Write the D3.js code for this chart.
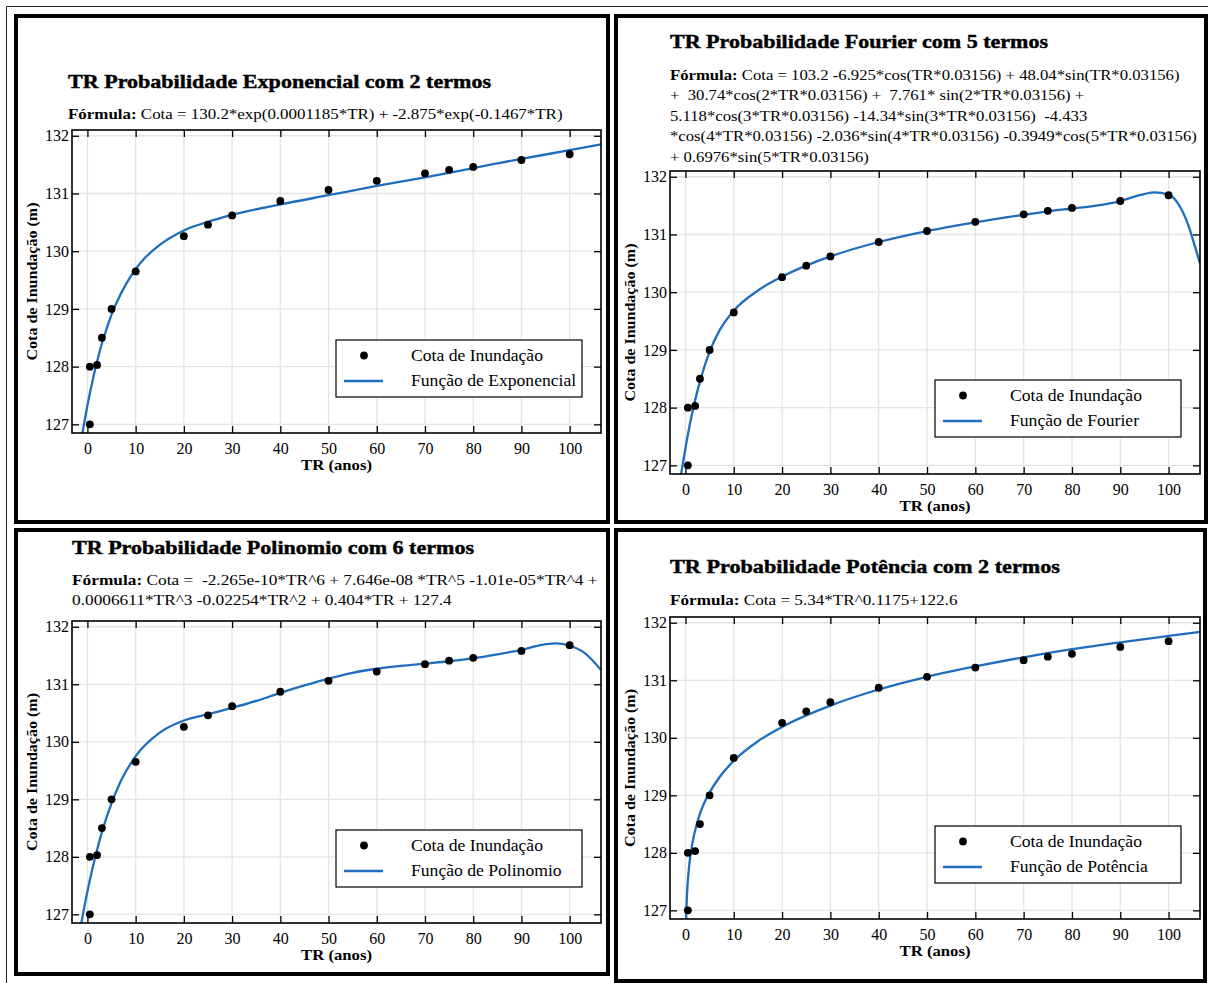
<!DOCTYPE html>
<html>
<head>
<meta charset="utf-8">
<script src="https://cdn.jsdelivr.net/npm/d3@7"></script>
<style>
    body { margin: 0; background: #fff; }
    svg text { font-family: "Liberation Serif", "Times New Roman", serif; fill: #000; white-space: pre; }
    .grid line { stroke: #e4e4e4; stroke-width: 1.3; }
    .axis line { stroke: #000; stroke-width: 1.3; }
</style>
</head>
<body>
<svg id="fig" width="1208" height="983"></svg>
<script>

// observed flood levels
let trYears = [0.5, 0.5, 2, 3, 5, 10, 20, 25, 30, 40, 50, 60, 70, 75, 80, 90, 100];
let cotaObs = [127.0, 128.0, 128.03, 128.5, 129.0, 129.65, 130.26, 130.46, 130.62, 130.87, 131.06, 131.22, 131.35, 131.41, 131.46, 131.58, 131.68];

let xTicks = [0, 10, 20, 30, 40, 50, 60, 70, 80, 90, 100];
let yTicks = [127, 128, 129, 130, 131, 132];
let xDomain = [-3.2, 106.5];
let yDomain = [126.85, 132.1];

// fitted curves
let expCurveX = [-1.2, -1, -0.5, 0, 0.5, 1, 1.5, 2, 2.5, 3, 4, 5, 6, 8, 10, 12, 15, 20, 25, 30, 40, 50, 60, 70, 80, 90, 100, 106.5];
let expCurveY = [126.75, 126.86, 127.10, 127.33, 127.54, 127.73, 127.92, 128.09, 128.25, 128.40, 128.66, 128.90, 129.10, 129.43, 129.69, 129.89, 130.11, 130.36, 130.51, 130.63, 130.81, 130.97, 131.13, 131.28, 131.44, 131.60, 131.75, 131.85];

let fourierCurveX = [-1.2, 0, 1, 2, 3, 4, 5, 7, 10, 15, 20, 25, 30, 40, 50, 60, 70, 75, 80, 85, 90, 94, 97, 100, 102, 104, 105.5, 106.5];
let fourierCurveY = [126.70, 127.30, 127.75, 128.13, 128.45, 128.73, 128.97, 129.33, 129.68, 130.03, 130.27, 130.46, 130.62, 130.87, 131.06, 131.21, 131.34, 131.40, 131.45, 131.50, 131.58, 131.68, 131.73, 131.69, 131.53, 131.18, 130.78, 130.50];

let polyCurveX = [-1.5, 0, 1, 2, 3, 5, 7, 10, 15, 20, 25, 30, 35, 40, 45, 50, 55, 60, 65, 70, 75, 80, 85, 90, 94, 97, 100, 103, 106.5];
let polyCurveY = [126.74, 127.40, 127.78, 128.12, 128.43, 128.93, 129.33, 129.75, 130.16, 130.37, 130.48, 130.59, 130.71, 130.85, 130.98, 131.10, 131.20, 131.27, 131.32, 131.36, 131.40, 131.45, 131.52, 131.60, 131.68, 131.71, 131.67, 131.55, 131.25];

let powerCurveX = [0.1, 0.14, 0.2, 0.3, 0.5, 0.75, 1, 1.5, 2, 3, 4, 5, 7, 10, 15, 20, 30, 40, 50, 60, 70, 80, 90, 100, 106.5];
let powerCurveY = [126.67, 126.84, 127.02, 127.24, 127.52, 127.76, 127.94, 128.20, 128.39, 128.68, 128.89, 129.05, 129.31, 129.60, 129.94, 130.19, 130.56, 130.84, 131.06, 131.24, 131.40, 131.54, 131.66, 131.77, 131.84];

let titles = [
    "TR Probabilidade Exponencial com 2 termos",
    "TR Probabilidade Fourier com 5 termos",
    "TR Probabilidade Polinomio com 6 termos",
    "TR Probabilidade Potência com 2 termos"
];
let formulas = [
    [" Cota = 130.2*exp(0.0001185*TR) + -2.875*exp(-0.1467*TR)"],
    [" Cota = 103.2 -6.925*cos(TR*0.03156) + 48.04*sin(TR*0.03156)",
     "+  30.74*cos(2*TR*0.03156) +  7.761* sin(2*TR*0.03156) +",
     "5.118*cos(3*TR*0.03156) -14.34*sin(3*TR*0.03156)  -4.433",
     "*cos(4*TR*0.03156) -2.036*sin(4*TR*0.03156) -0.3949*cos(5*TR*0.03156)",
     "+ 0.6976*sin(5*TR*0.03156)"],
    [" Cota =  -2.265e-10*TR^6 + 7.646e-08 *TR^5 -1.01e-05*TR^4 +",
     "0.0006611*TR^3 -0.02254*TR^2 + 0.404*TR + 127.4"],
    [" Cota = 5.34*TR^0.1175+122.6"]
];
let fitNames = ["Função de Exponencial", "Função de Fourier", "Função de Polinomio", "Função de Potência"];
let pointLabel = "Cota de Inundação";
let xLabel = "TR (anos)";
let yLabel = "Cota de Inundação (m)";

let curvesX = [expCurveX, fourierCurveX, polyCurveX, powerCurveX];
let curvesY = [expCurveY, fourierCurveY, polyCurveY, powerCurveY];

let layouts = [
    {box: [16, 16, 592, 506], left: 72, right: 601, top: 130, bottom: 433,
        titleX: 68, titleY: 88, titleW: 423, formX: 68, formY: 119.5, formW: 495, legend: [336, 340]},
    {box: [616, 16, 590, 506], left: 670, right: 1200, top: 171, bottom: 474,
        titleX: 670, titleY: 48, titleW: 378, formX: 670, formY: 80, formW: 510, legend: [935, 380]},
    {box: [16, 530, 592, 444], left: 72, right: 601, top: 621, bottom: 923,
        titleX: 72, titleY: 554, titleW: 402, formX: 72, formY: 585, formW: 526, legend: [336, 830]},
    {box: [616, 530, 589, 451], left: 670, right: 1200, top: 617, bottom: 919,
        titleX: 670, titleY: 573, titleW: 390, formX: 670, formY: 605, formW: 288, legend: [935, 826]}
];

let curveColor = "#1f6dbd";

class Panel {

    constructor(svg, index){
        this.svg = svg;
        this.index = index;
        this.L = layouts[index];
    }

    // widen the Times-like glyphs a little so they take the room of the original font
    stretch(sel, factor){
        sel.each(function(){
            let w = this.getComputedTextLength();
            d3.select(this).attr("textLength", w * factor).attr("lengthAdjust", "spacingAndGlyphs");
        });
    }

    draw(){
        let L = this.L;
        let i = this.index;
        let g = this.svg.append("g");

        g.append("rect")
            .attr("x", L.box[0]).attr("y", L.box[1])
            .attr("width", L.box[2]).attr("height", L.box[3])
            .attr("fill", "#fff")
            .attr("stroke", "#000")
            .attr("stroke-width", 4);

        let xScale = d3.scaleLinear().domain(xDomain).range([L.left, L.right]);
        let yScale = d3.scaleLinear().domain(yDomain).range([L.bottom, L.top]);

        // grid
        let grid = g.append("g").attr("class", "grid");
        grid.selectAll("line.gx").data(xTicks).enter().append("line")
            .attr("class", "gx")
            .attr("x1", d => xScale(d)).attr("x2", d => xScale(d))
            .attr("y1", L.top).attr("y2", L.bottom);
        grid.selectAll("line.gy").data(yTicks).enter().append("line")
            .attr("class", "gy")
            .attr("x1", L.left).attr("x2", L.right)
            .attr("y1", d => yScale(d)).attr("y2", d => yScale(d));

        // axes, ticks pointing inward on all four sides
        let tick = -7;
        g.append("g").attr("class", "axis")
            .attr("transform", "translate(0," + L.bottom + ")")
            .call(d3.axisBottom(xScale).tickValues(xTicks).tickFormat(d3.format("d"))
                .tickSizeInner(tick).tickSizeOuter(0).tickPadding(10));
        g.append("g").attr("class", "axis")
            .attr("transform", "translate(" + L.left + ",0)")
            .call(d3.axisLeft(yScale).tickValues(yTicks).tickFormat(d3.format("d"))
                .tickSizeInner(tick).tickSizeOuter(0).tickPadding(3));
        g.append("g").attr("class", "axis")
            .attr("transform", "translate(0," + L.top + ")")
            .call(d3.axisTop(xScale).tickValues(xTicks).tickSizeInner(tick).tickSizeOuter(0).tickFormat(""));
        g.append("g").attr("class", "axis")
            .attr("transform", "translate(" + L.right + ",0)")
            .call(d3.axisRight(yScale).tickValues(yTicks).tickSizeInner(tick).tickSizeOuter(0).tickFormat(""));
        g.selectAll(".axis .domain").remove();
        g.selectAll(".axis").attr("font-family", null).attr("font-size", null);
        g.selectAll(".axis text").style("font-size", "16px");

        let clipId = "clip" + i;
        g.append("clipPath").attr("id", clipId)
            .append("rect")
            .attr("x", L.left).attr("y", L.top)
            .attr("width", L.right - L.left).attr("height", L.bottom - L.top);

        let cx = curvesX[i];
        let cy = curvesY[i];
        let line = d3.line()
            .x(d => xScale(d[0]))
            .y(d => yScale(d[1]))
            .curve(d3.curveMonotoneX);
        g.append("path")
            .datum(cx.map((x, k) => [x, cy[k]]))
            .attr("clip-path", "url(#" + clipId + ")")
            .attr("fill", "none")
            .attr("stroke", curveColor)
            .attr("stroke-width", 2.3)
            .attr("d", line);

        g.selectAll("circle.obs").data(trYears).enter().append("circle")
            .attr("class", "obs")
            .attr("cx", d => xScale(d))
            .attr("cy", (d, k) => yScale(cotaObs[k]))
            .attr("r", 3.9)
            .attr("fill", "#000");

        // plot frame
        g.append("rect")
            .attr("x", L.left).attr("y", L.top)
            .attr("width", L.right - L.left).attr("height", L.bottom - L.top)
            .attr("fill", "none")
            .attr("stroke", "#000")
            .attr("stroke-width", 1.6);

        // title (a thin outline makes it as heavy as the original) and formula
        g.append("text")
            .attr("x", L.titleX).attr("y", L.titleY)
            .style("font-size", "19.5px")
            .style("font-weight", "bold")
            .attr("stroke", "#000")
            .attr("stroke-width", 0.45)
            .attr("textLength", L.titleW)
            .attr("lengthAdjust", "spacingAndGlyphs")
            .text(titles[i]);

        let form = g.append("g");
        form.selectAll("text").data(formulas[i]).enter().append("text")
            .attr("x", 0)
            .attr("y", (d, k) => L.formY + k * 20.5)
            .style("font-size", "15.5px")
            .each(function(d, k){
                let t = d3.select(this);
                if(k === 0){
                    t.append("tspan").style("font-weight", "bold").text("Fórmula:");
                }
                t.append("tspan").text(d);
            });
        let firstW = form.select("text").node().getBBox().width;
        form.attr("transform", "translate(" + L.formX + ",0) scale(" + (L.formW / firstW) + ",1)");

        // axis titles
        g.append("text")
            .attr("x", (L.left + L.right) / 2)
            .attr("y", L.bottom + 37)
            .attr("text-anchor", "middle")
            .style("font-size", "15px")
            .style("font-weight", "bold")
            .attr("textLength", 71)
            .attr("lengthAdjust", "spacingAndGlyphs")
            .text(xLabel);

        g.append("text")
            .attr("transform", "translate(" + (L.left - 35) + "," + ((L.top + L.bottom) / 2) + ") rotate(-90)")
            .attr("text-anchor", "middle")
            .style("font-size", "15px")
            .style("font-weight", "bold")
            .attr("textLength", 158)
            .attr("lengthAdjust", "spacingAndGlyphs")
            .text(yLabel);

        // legend
        let lx = L.legend[0];
        let ly = L.legend[1];
        let leg = g.append("g");
        leg.append("rect")
            .attr("x", lx).attr("y", ly)
            .attr("width", 246).attr("height", 57)
            .attr("fill", "#fff")
            .attr("stroke", "#000")
            .attr("stroke-width", 1.2);
        leg.append("circle")
            .attr("cx", lx + 28).attr("cy", ly + 15.5)
            .attr("r", 3.9).attr("fill", "#000");
        leg.append("line")
            .attr("x1", lx + 8).attr("x2", lx + 47)
            .attr("y1", ly + 41).attr("y2", ly + 41)
            .attr("stroke", curveColor).attr("stroke-width", 2.5);
        let legText = leg.selectAll("text").data([pointLabel, fitNames[i]]).enter().append("text")
            .attr("x", lx + 75)
            .attr("y", (d, k) => ly + 15.5 + k * 25.5)
            .attr("dy", "0.33em")
            .style("font-size", "16px")
            .text(d => d);
        this.stretch(legText, 1.1);
    }
}

let svg = d3.select("#fig");
svg.append("rect").attr("width", 1208).attr("height", 983).attr("fill", "#fff");
svg.append("path")
    .attr("d", "M6.5,983 V6.5 H1208")
    .attr("fill", "none")
    .attr("stroke", "#222")
    .attr("stroke-width", 1);

for(let i = 0; i < 4; i++){
    let p = new Panel(svg, i);
    p.draw();
}

</script>
</body>
</html>
